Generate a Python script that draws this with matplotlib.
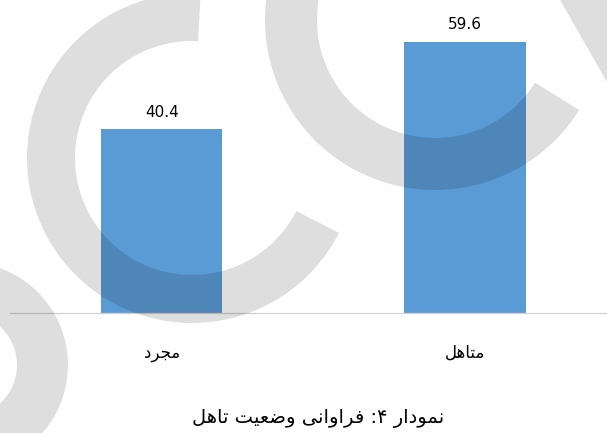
import matplotlib
matplotlib.use("Agg")
import matplotlib.pyplot as plt
from matplotlib.patches import Wedge, Polygon
from matplotlib.transforms import Affine2D

# ---- data ----
categories = ["مجرد", "متاهل"]
values = [40.4, 59.6]
value_labels = ["40.4", "59.6"]
caption = "نمودار ۴: فراوانی وضعیت تاهل"

# ---- minimal Persian shaping (presentation forms + RTL order) ----
FORMS = {
    'ا': ('\uFE8D', '\uFE8E', None, None),
    'ت': ('\uFE95', '\uFE96', '\uFE97', '\uFE98'),
    'ج': ('\uFE9D', '\uFE9E', '\uFE9F', '\uFEA0'),
    'د': ('\uFEA9', '\uFEAA', None, None),
    'ر': ('\uFEAD', '\uFEAE', None, None),
    'ض': ('\uFEBD', '\uFEBE', '\uFEBF', '\uFEC0'),
    'ع': ('\uFEC9', '\uFECA', '\uFECB', '\uFECC'),
    'ف': ('\uFED1', '\uFED2', '\uFED3', '\uFED4'),
    'ل': ('\uFEDD', '\uFEDE', '\uFEDF', '\uFEE0'),
    'م': ('\uFEE1', '\uFEE2', '\uFEE3', '\uFEE4'),
    'ن': ('\uFEE5', '\uFEE6', '\uFEE7', '\uFEE8'),
    'ه': ('\uFEE9', '\uFEEA', '\uFEEB', '\uFEEC'),
    'و': ('\uFEED', '\uFEEE', None, None),
    '\u06CC': ('\uFEEF', '\uFEF0', '\uFEF3', '\uFEF4'),
    '\u064A': ('\uFEEF', '\uFEF0', '\uFEF3', '\uFEF4'),
}


def shape(s):
    out = []
    for i, ch in enumerate(s):
        if ch not in FORMS:
            out.append(ch)
            continue
        prev = s[i - 1] if i > 0 else None
        nxt = s[i + 1] if i + 1 < len(s) else None
        jp = prev in FORMS and FORMS[prev][2] is not None
        jn = FORMS[ch][2] is not None and nxt in FORMS
        iso, fin, ini, med = FORMS[ch]
        out.append(med if (jp and jn) else fin if jp else ini if jn else iso)
    return ''.join(out)[::-1]


W, H = 607, 433
fig = plt.figure(figsize=(W / 100, H / 100), dpi=100)
fig.patch.set_facecolor("white")

base_y = 313.3
ax = fig.add_axes([10 / W, (H - base_y) / H, 597 / W, base_y / H])
x = list(range(len(categories)))
ax.bar(x, values, width=0.4, color="#5b9bd5", zorder=2)
ax.set_xlim(-0.5, -0.5 + 597 / 303.3)
ax.set_ylim(0, base_y / 4.557)
for s in ["top", "left", "right"]:
    ax.spines[s].set_visible(False)
ax.spines["bottom"].set_color("#d0d0d0")
ax.spines["bottom"].set_linewidth(0.9)
ax.set_xticks([])
ax.set_yticks([])
ax.patch.set_alpha(0)

for xi, v, lab in zip(x, values, value_labels):
    ax.annotate(lab, (xi, v), xytext=(0, 12.5), textcoords="offset pixels",
                ha="center", va="baseline", fontsize=11, color="black",
                family="DejaVu Sans")

trans = ax.get_xaxis_transform()
for xi, c in zip(x, categories):
    ax.text(xi, -39.7 / base_y, shape(c), transform=trans, ha="center",
            va="center", fontsize=12, family="DejaVu Sans", color="black")

fig.text(318 / W, (H - 418) / H, shape(caption), ha="center", va="center",
         fontsize=14, family="DejaVu Sans", color="black")

# ---- watermark (semi-transparent grey shapes) ----
px = Affine2D().scale(1 / 100) + fig.dpi_scale_trans
wm = dict(facecolor="black", alpha=0.13, edgecolor="none", transform=px, zorder=10)
fig.add_artist(Wedge((192, H - 158), 165, 87, 333, width=48, **wm))
fig.add_artist(Wedge((435, H - 20), 170, 100, 328, width=52, **wm))
fig.add_artist(Wedge((-35, H - 365), 103, 0, 360, width=51, **wm))
fig.add_artist(Polygon([(556, H + 7), (615, H + 7), (615, H - 96)], closed=True, **wm))

fig.savefig("out.png", dpi=100)
